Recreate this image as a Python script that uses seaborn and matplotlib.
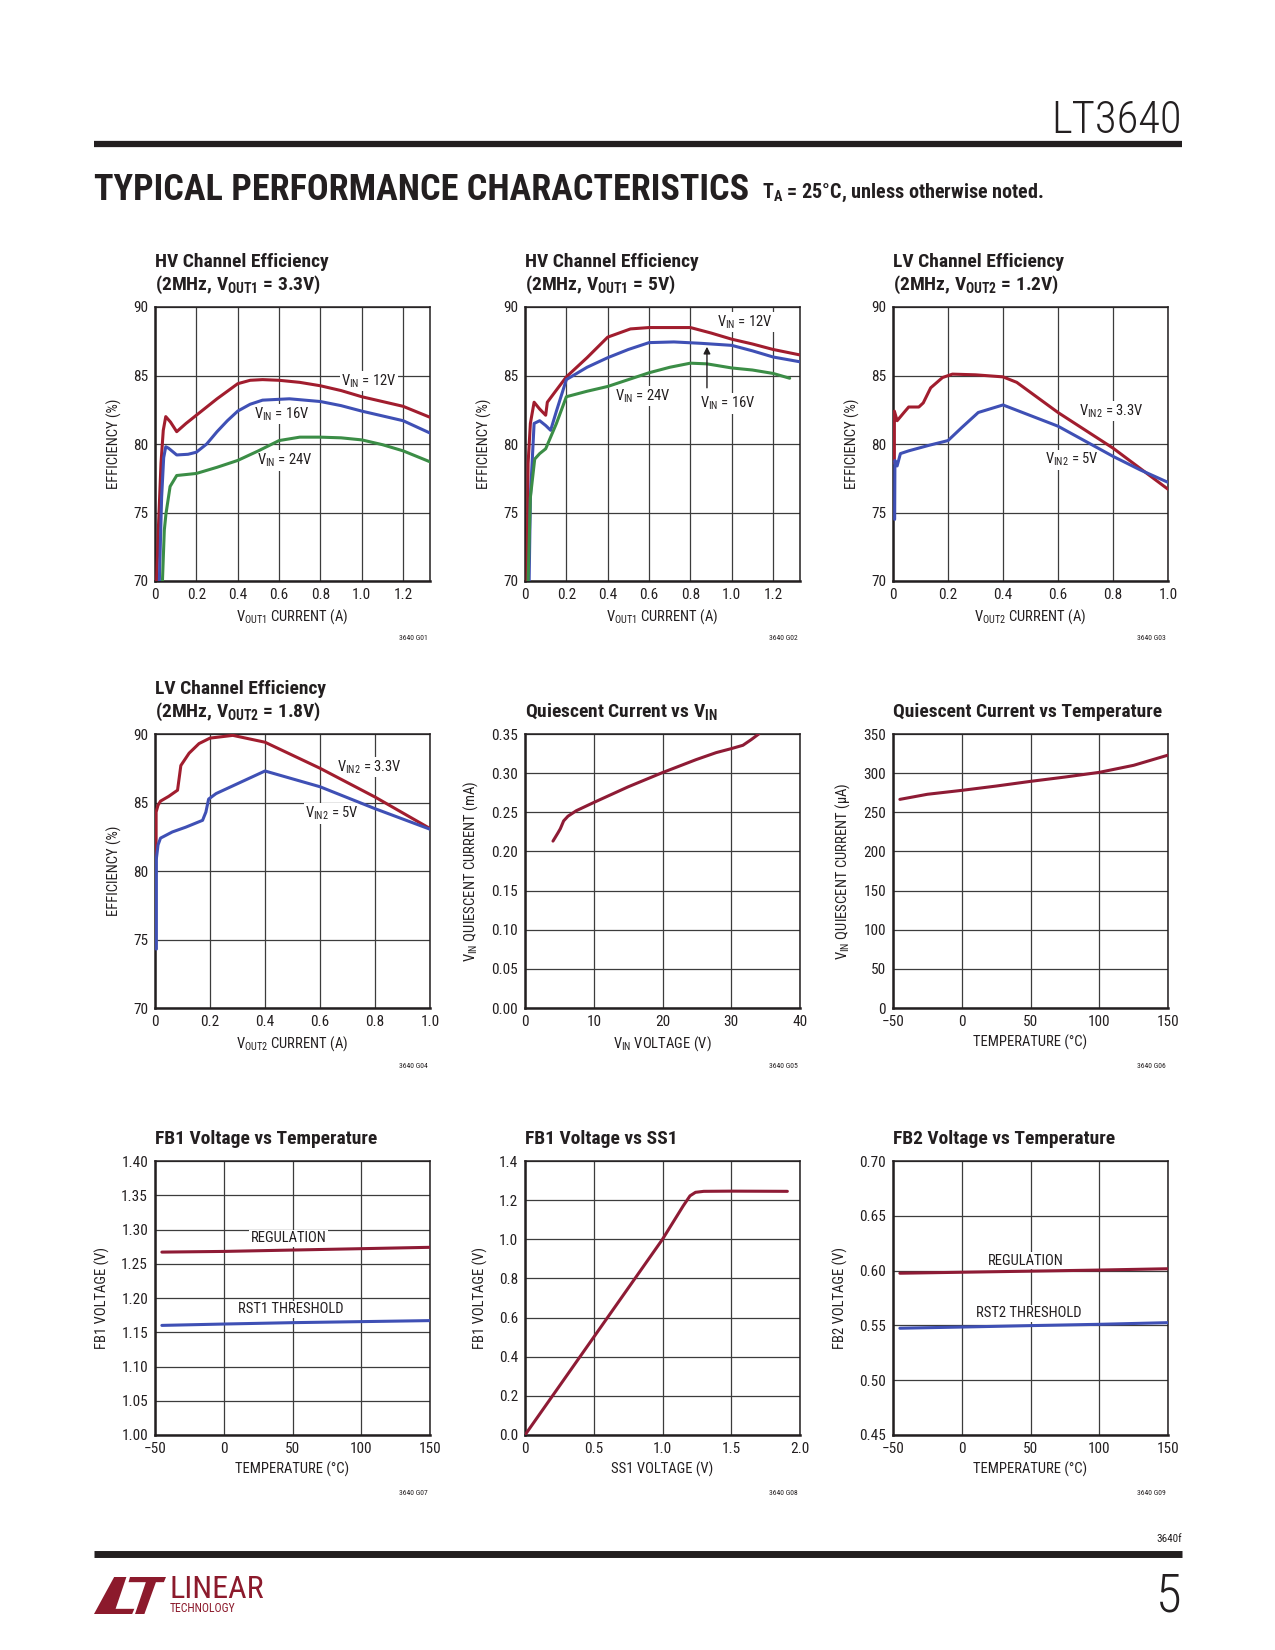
import matplotlib
matplotlib.use('Agg')
import matplotlib.pyplot as plt
import matplotlib.font_manager as fm
from matplotlib.patches import Polygon
import seaborn as sns

# --- data ---
# HV channel efficiency, VOUT1 = 3.3V
hv33_x12 = [0.008, 0.016, 0.029, 0.040, 0.052, 0.075, 0.105, 0.15, 0.20, 0.30, 0.40, 0.46, 0.52, 0.60, 0.70, 0.80, 0.90, 1.00, 1.10, 1.20, 1.33]
hv33_y12 = [70.0, 73.7, 78.6, 81.0, 82.0, 81.6, 80.9, 81.5, 82.1, 83.3, 84.4, 84.65, 84.7, 84.65, 84.5, 84.25, 83.9, 83.45, 83.1, 82.75, 81.95]
hv33_x16 = [0.021, 0.032, 0.042, 0.052, 0.065, 0.105, 0.16, 0.20, 0.25, 0.30, 0.35, 0.40, 0.46, 0.52, 0.65, 0.80, 0.90, 1.00, 1.10, 1.20, 1.33]
hv33_y16 = [70.0, 76.1, 79.0, 79.8, 79.7, 79.2, 79.25, 79.4, 80.0, 80.9, 81.7, 82.4, 82.9, 83.2, 83.3, 83.1, 82.8, 82.4, 82.05, 81.7, 80.8]
hv33_x24 = [0.036, 0.045, 0.053, 0.073, 0.105, 0.20, 0.30, 0.40, 0.50, 0.60, 0.70, 0.80, 0.90, 1.00, 1.10, 1.20, 1.33]
hv33_y24 = [70.0, 73.7, 74.9, 76.9, 77.7, 77.85, 78.3, 78.8, 79.5, 80.25, 80.5, 80.5, 80.45, 80.3, 79.95, 79.5, 78.7]

# HV channel efficiency, VOUT1 = 5V
hv5_x12 = [0.010, 0.015, 0.026, 0.044, 0.071, 0.10, 0.108, 0.15, 0.20, 0.30, 0.40, 0.51, 0.60, 0.70, 0.80, 0.90, 1.00, 1.10, 1.20, 1.33]
hv5_y12 = [70.0, 78.6, 81.5, 83.05, 82.55, 82.1, 83.05, 83.9, 84.9, 86.3, 87.8, 88.4, 88.5, 88.5, 88.5, 88.1, 87.65, 87.3, 86.9, 86.5]
hv5_x16 = [0.020, 0.026, 0.044, 0.071, 0.10, 0.124, 0.152, 0.20, 0.30, 0.40, 0.50, 0.60, 0.72, 0.85, 1.00, 1.10, 1.20, 1.33]
hv5_y16 = [70.0, 76.1, 81.5, 81.7, 81.35, 81.0, 82.4, 84.7, 85.6, 86.3, 86.9, 87.4, 87.45, 87.35, 87.2, 86.8, 86.35, 86.0]
hv5_x24 = [0.015, 0.026, 0.047, 0.071, 0.10, 0.152, 0.20, 0.30, 0.40, 0.50, 0.60, 0.70, 0.80, 0.88, 1.00, 1.10, 1.20, 1.28]
hv5_y24 = [70.0, 76.1, 78.9, 79.3, 79.65, 81.5, 83.45, 83.85, 84.2, 84.7, 85.2, 85.6, 85.9, 85.85, 85.55, 85.4, 85.15, 84.8]

# LV channel efficiency, VOUT2 = 1.2V
lv12_x33 = [0.005, 0.005, 0.015, 0.040, 0.057, 0.094, 0.110, 0.137, 0.180, 0.216, 0.30, 0.40, 0.45, 0.60, 0.80, 0.90, 1.00]
lv12_y33 = [78.6, 82.4, 81.7, 82.3, 82.7, 82.7, 83.0, 84.1, 84.85, 85.1, 85.05, 84.9, 84.5, 82.3, 79.7, 78.2, 76.7]
lv12_x5 = [0.006, 0.007, 0.015, 0.027, 0.057, 0.13, 0.20, 0.25, 0.31, 0.40, 0.60, 0.80, 0.90, 1.00]
lv12_y5 = [74.5, 78.8, 78.4, 79.3, 79.5, 79.9, 80.25, 81.2, 82.3, 82.85, 81.3, 79.1, 78.1, 77.2]

# LV channel efficiency, VOUT2 = 1.8V
lv18_x33 = [0.004, 0.004, 0.011, 0.02, 0.05, 0.082, 0.094, 0.124, 0.16, 0.20, 0.283, 0.40, 0.60, 0.80, 1.00]
lv18_y33 = [80.9, 84.3, 84.8, 85.1, 85.45, 85.9, 87.7, 88.6, 89.3, 89.7, 89.9, 89.4, 87.5, 85.4, 83.1]
lv18_x5 = [0.005, 0.005, 0.011, 0.02, 0.063, 0.112, 0.173, 0.185, 0.195, 0.222, 0.40, 0.60, 0.80, 1.00]
lv18_y5 = [74.3, 80.9, 81.9, 82.4, 82.85, 83.2, 83.7, 84.3, 85.25, 85.65, 87.3, 86.15, 84.55, 83.05]

# quiescent current
iq_vin = [4.07, 4.8, 5.14, 5.62, 6.25, 7.46, 10, 15, 20, 24.9, 27.8, 30, 31.7, 32.9, 34.0]
iq_ma = [0.2132, 0.2238, 0.229, 0.239, 0.245, 0.252, 0.2625, 0.2825, 0.3007, 0.3173, 0.3262, 0.3313, 0.3356, 0.3428, 0.35]
iq_temp = [-45, -25, 0, 25, 50, 75, 100, 125, 150]
iq_ua = [266.5, 273, 278, 283.5, 289.5, 295, 301, 310, 323]

# feedback voltages
fb1_temp = [-45, 0, 50, 100, 150]
fb1_reg = [1.267, 1.268, 1.270, 1.272, 1.274]
fb1_rst = [1.160, 1.162, 1.164, 1.1655, 1.167]
ss1_v = [0.0, 0.5, 1.0, 1.15, 1.20, 1.24, 1.30, 1.5, 1.908]
fb1_v = [0.0, 0.5, 1.0, 1.17, 1.222, 1.240, 1.245, 1.246, 1.245]
fb2_temp = [-45, 0, 50, 100, 150]
fb2_reg = [0.5976, 0.5985, 0.5995, 0.6005, 0.6017]
fb2_rst = [0.5474, 0.5485, 0.5498, 0.551, 0.5525]

eff_ticks = [70, 75, 80, 85, 90]
cur13_ticks = [0, 0.2, 0.4, 0.6, 0.8, 1.0, 1.2]
cur13_labels = ['0', '0.2', '0.4', '0.6', '0.8', '1.0', '1.2']
cur10_ticks = [0, 0.2, 0.4, 0.6, 0.8, 1.0]
cur10_labels = ['0', '0.2', '0.4', '0.6', '0.8', '1.0']
temp_ticks = [-50, 0, 50, 100, 150]
temp_labels = ['\u221250', '0', '50', '100', '150']

# --- style ---
sns.set_style('white')
names = {f.name for f in fm.fontManager.ttflist}
NARROW = next((n for n in ['Liberation Sans Narrow', 'Roboto Condensed', 'DejaVu Sans Condensed']
               if n in names), 'Liberation Sans')
plt.rcParams['font.family'] = [NARROW, 'DejaVu Sans']
plt.rcParams['mathtext.fontset'] = 'custom'
plt.rcParams['mathtext.rm'] = NARROW
plt.rcParams['mathtext.it'] = NARROW
plt.rcParams['mathtext.bf'] = NARROW + ':bold'

RED = '#a11d2e'
BLUE = '#3f50b5'
GREEN = '#3b8d46'
MAROON = '#8e1b35'
INK = '#231f20'
GRIDC = '#3c3c3c'

W, H = 1275, 1650
fig = plt.figure(figsize=(W / 100, H / 100), dpi=100)

col_left = [155, 525, 893]
row_top = [307, 734, 1161]
AW, AH = 275, 274


def make_ax(r, c):
    return fig.add_axes([col_left[c] / W, 1 - (row_top[r] + AH) / H, AW / W, AH / H])


def style(ax, xlim, ylim, xt, xl, yt, yl, xlabel, ylabel, title):
    ax.set_xlim(*xlim)
    ax.set_ylim(*ylim)
    ax.set_xticks(xt)
    ax.set_xticklabels(xl)
    ax.set_yticks(yt)
    ax.set_yticklabels(yl)
    ax.grid(True, color=GRIDC, lw=0.9)
    ax.set_axisbelow(True)
    ax.tick_params(length=0, pad=5, labelsize=11, colors=INK)
    for side in ['left', 'bottom']:
        ax.spines[side].set_linewidth(1.8)
        ax.spines[side].set_color(INK)
    for side in ['top', 'right']:
        ax.spines[side].set_linewidth(1.1)
        ax.spines[side].set_color(INK)
    ax.set_xlabel(xlabel, fontsize=10.5, color=INK, labelpad=4)
    ax.set_ylabel(ylabel, fontsize=10.5, color=INK, labelpad=8)
    ax.set_title(title, loc='left', fontsize=14, fontweight='bold', color=INK, pad=12, linespacing=1.2)


def curve(ax, x, y, color, lw=2.2):
    sns.lineplot(x=x, y=y, ax=ax, color=color, lw=lw, estimator=None, sort=False, legend=False, zorder=3)


def note(ax, x, y, s):
    ax.text(x, y, s, ha='center', va='center', fontsize=10.5, color=INK, zorder=2,
            bbox=dict(fc='white', ec='none', pad=1.0))


# row 1
ax = make_ax(0, 0)
curve(ax, hv33_x12, hv33_y12, RED)
curve(ax, hv33_x16, hv33_y16, BLUE)
curve(ax, hv33_x24, hv33_y24, GREEN)
style(ax, (0, 1.33), (70, 90), cur13_ticks, cur13_labels, eff_ticks, eff_ticks,
      r'V$_{\mathrm{OUT1}}$ CURRENT (A)', 'EFFICIENCY (%)',
      'HV Channel Efficiency\n(2MHz, V$_{\\mathbf{OUT1}}$ = 3.3V)')
note(ax, 1.035, 84.6, r'V$_{\mathrm{IN}}$ = 12V')
note(ax, 0.615, 82.2, r'V$_{\mathrm{IN}}$ = 16V')
note(ax, 0.63, 78.8, r'V$_{\mathrm{IN}}$ = 24V')

ax = make_ax(0, 1)
curve(ax, hv5_x12, hv5_y12, RED)
curve(ax, hv5_x16, hv5_y16, BLUE)
curve(ax, hv5_x24, hv5_y24, GREEN)
style(ax, (0, 1.33), (70, 90), cur13_ticks, cur13_labels, eff_ticks, eff_ticks,
      r'V$_{\mathrm{OUT1}}$ CURRENT (A)', 'EFFICIENCY (%)',
      'HV Channel Efficiency\n(2MHz, V$_{\\mathbf{OUT1}}$ = 5V)')
note(ax, 1.065, 88.9, r'V$_{\mathrm{IN}}$ = 12V')
note(ax, 0.572, 83.5, r'V$_{\mathrm{IN}}$ = 24V')
note(ax, 0.98, 82.95, r'V$_{\mathrm{IN}}$ = 16V')
ax.annotate('', xy=(0.88, 87.3), xytext=(0.88, 83.9),
            arrowprops=dict(arrowstyle='-|>', color=INK, lw=1.0, mutation_scale=10))

ax = make_ax(0, 2)
curve(ax, lv12_x33, lv12_y33, RED)
curve(ax, lv12_x5, lv12_y5, BLUE)
style(ax, (0, 1.0), (70, 90), cur10_ticks, cur10_labels, eff_ticks, eff_ticks,
      r'V$_{\mathrm{OUT2}}$ CURRENT (A)', 'EFFICIENCY (%)',
      'LV Channel Efficiency\n(2MHz, V$_{\\mathbf{OUT2}}$ = 1.2V)')
note(ax, 0.795, 82.4, r'V$_{\mathrm{IN2}}$ = 3.3V')
note(ax, 0.65, 78.85, r'V$_{\mathrm{IN2}}$ = 5V')

# row 2
ax = make_ax(1, 0)
curve(ax, lv18_x33, lv18_y33, RED)
curve(ax, lv18_x5, lv18_y5, BLUE)
style(ax, (0, 1.0), (70, 90), cur10_ticks, cur10_labels, eff_ticks, eff_ticks,
      r'V$_{\mathrm{OUT2}}$ CURRENT (A)', 'EFFICIENCY (%)',
      'LV Channel Efficiency\n(2MHz, V$_{\\mathbf{OUT2}}$ = 1.8V)')
note(ax, 0.78, 87.6, r'V$_{\mathrm{IN2}}$ = 3.3V')
note(ax, 0.643, 84.2, r'V$_{\mathrm{IN2}}$ = 5V')

ax = make_ax(1, 1)
curve(ax, iq_vin, iq_ma, MAROON)
yt = [0, 0.05, 0.10, 0.15, 0.20, 0.25, 0.30, 0.35]
style(ax, (0, 40), (0, 0.35), [0, 10, 20, 30, 40], ['0', '10', '20', '30', '40'],
      yt, [f'{v:.2f}' for v in yt],
      r'V$_{\mathrm{IN}}$ VOLTAGE (V)', r'V$_{\mathrm{IN}}$ QUIESCENT CURRENT (mA)',
      'Quiescent Current vs V$_{\\mathbf{IN}}$')

ax = make_ax(1, 2)
curve(ax, iq_temp, iq_ua, MAROON)
yt = [0, 50, 100, 150, 200, 250, 300, 350]
style(ax, (-50, 150), (0, 350), temp_ticks, temp_labels, yt, yt,
      'TEMPERATURE (\u00b0C)', 'V$_{\\mathrm{IN}}$ QUIESCENT CURRENT (\u00b5A)',
      'Quiescent Current vs Temperature')

# row 3
ax = make_ax(2, 0)
curve(ax, fb1_temp, fb1_reg, MAROON)
curve(ax, fb1_temp, fb1_rst, BLUE)
yt = [1.00, 1.05, 1.10, 1.15, 1.20, 1.25, 1.30, 1.35, 1.40]
style(ax, (-50, 150), (1.0, 1.4), temp_ticks, temp_labels, yt, [f'{v:.2f}' for v in yt],
      'TEMPERATURE (\u00b0C)', 'FB1 VOLTAGE (V)', 'FB1 Voltage vs Temperature')
note(ax, 47, 1.2875, 'REGULATION')
note(ax, 49, 1.1836, 'RST1 THRESHOLD')

ax = make_ax(2, 1)
curve(ax, ss1_v, fb1_v, MAROON)
yt = [0, 0.2, 0.4, 0.6, 0.8, 1.0, 1.2, 1.4]
style(ax, (0, 2.0), (0, 1.4), [0, 0.5, 1.0, 1.5, 2.0], ['0', '0.5', '1.0', '1.5', '2.0'],
      yt, [f'{v:.1f}' for v in yt], 'SS1 VOLTAGE (V)', 'FB1 VOLTAGE (V)', 'FB1 Voltage vs SS1')

ax = make_ax(2, 2)
curve(ax, fb2_temp, fb2_reg, MAROON)
curve(ax, fb2_temp, fb2_rst, BLUE)
yt = [0.45, 0.50, 0.55, 0.60, 0.65, 0.70]
style(ax, (-50, 150), (0.45, 0.70), temp_ticks, temp_labels, yt, [f'{v:.2f}' for v in yt],
      'TEMPERATURE (\u00b0C)', 'FB2 VOLTAGE (V)', 'FB2 Voltage vs Temperature')
note(ax, 46.6, 0.6088, 'REGULATION')
note(ax, 49, 0.561, 'RST2 THRESHOLD')

# figure ids
ids = ['G01', 'G02', 'G03', 'G04', 'G05', 'G06', 'G07', 'G08', 'G09']
id_right = [428, 798, 1166]
id_y = [638, 1066, 1493]
for i, g in enumerate(ids):
    r, c = divmod(i, 3)
    fig.text(id_right[c] / W, 1 - id_y[r] / H, '3640 ' + g, ha='right', va='center', fontsize=5.5, color=INK)


# --- page furniture ---
def fx(x):
    return x / W


def fy(y):
    return 1 - y / H


fig.text(fx(1182), fy(121), 'LT3640', ha='right', va='center', fontsize=32, fontweight='light', color=INK)
fig.add_artist(plt.Line2D([fx(94), fx(1182)], [fy(144), fy(144)], lw=4.5, color=INK, solid_capstyle='butt'))
fig.text(fx(94), fy(190), 'TYPICAL PERFORMANCE CHARACTERISTICS', ha='left', va='center',
         fontsize=26, fontweight='bold', color=INK)
fig.text(fx(762), fy(193), 'T$_{\\mathbf{A}}$ = 25\u00b0C, unless otherwise noted.', ha='left', va='center',
         fontsize=14.5, fontweight='bold', color=INK)

fig.text(fx(1182), fy(1539), '3640f', ha='right', va='center', fontsize=8, color=INK)
fig.add_artist(plt.Line2D([fx(94), fx(1182)], [fy(1554), fy(1554)], lw=5, color=INK, solid_capstyle='butt'))
fig.text(fx(1182), fy(1597), '5', ha='right', va='center', fontsize=38, fontweight='light', color=INK)

# logo
LOGO = '#8c1a2c'
lx0, ly0, lw_, lh_ = 94, 1577, 72, 37


def lp(u, v):
    return (fx(lx0 + u * lw_), fy(ly0 + v * lh_))


left_piece = [lp(0.28, 0), lp(0.45, 0), lp(0.30, 0.86), lp(0.56, 0.86), lp(0.53, 1.0), lp(0.0, 1.0)]
right_piece = [lp(0.50, 0), lp(1.0, 0), lp(0.97, 0.14), lp(0.86, 0.14), lp(0.70, 1.0),
               lp(0.57, 1.0), lp(0.72, 0.14), lp(0.48, 0.14)]
for pts in (left_piece, right_piece):
    fig.add_artist(Polygon(pts, closed=True, transform=fig.transFigure, fc=LOGO, ec='none'))
fig.text(fx(170), fy(1590), 'LINEAR', ha='left', va='center', fontsize=23, color=LOGO)
fig.text(fx(170), fy(1609), 'TECHNOLOGY', ha='left', va='center', fontsize=8.5, color=LOGO)

fig.savefig('out.png', dpi=100)
